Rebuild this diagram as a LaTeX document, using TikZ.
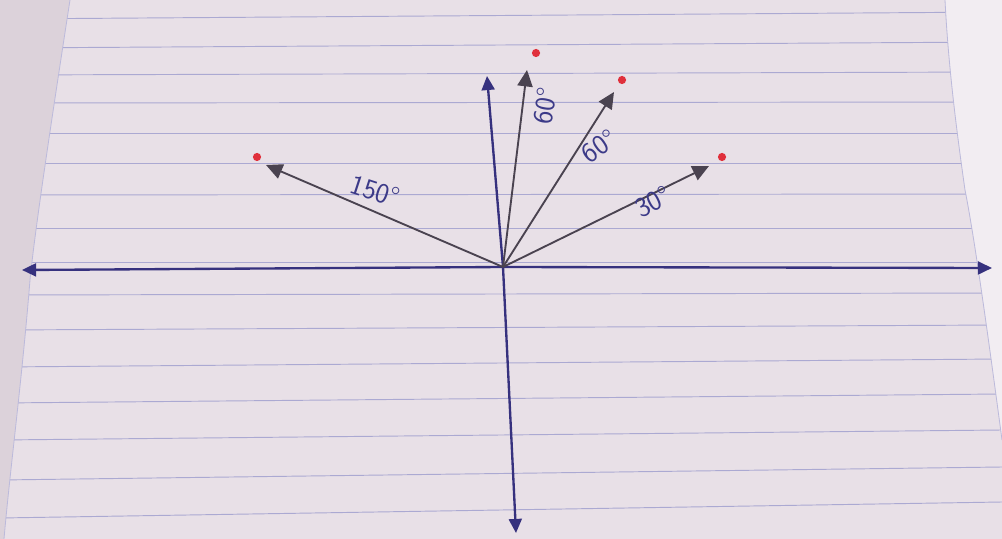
\documentclass[tikz,border=0pt]{standalone}
\usetikzlibrary{arrows.meta}
\definecolor{paper}{HTML}{E8E0E7}
\definecolor{outleft}{HTML}{DCD2DA}
\definecolor{outright}{HTML}{F2EDF2}
\definecolor{rulecol}{HTML}{ABA9D2}
\definecolor{axisblue}{HTML}{36317E}
\definecolor{vecgray}{HTML}{4A4350}
\definecolor{dotred}{HTML}{E0303C}
\definecolor{inkblue}{HTML}{3C3A88}
\begin{document}
\begin{tikzpicture}[x=0.03cm,y=-0.03cm,
  axis/.style={draw=axisblue, line width=2pt, -{Triangle[length=12pt,width=11pt]}},
  vec/.style={draw=vecgray, line width=1.6pt, -{Triangle[length=14pt,width=13pt]}},
  reddot/.style={circle, fill=dotred, inner sep=0pt, minimum size=7pt},
  lbl/.style={text=inkblue, font=\sffamily\upshape\fontsize{24}{28}\selectfont, inner sep=0pt},
  rulel/.style={draw=rulecol, line width=0.8pt},
  edge/.style={draw=rulecol!80!white, line width=0.7pt}]
% background
\fill[outright] (0,0) rectangle (1002,539);
\useasboundingbox (0,0) rectangle (1002,539);
\fill[outleft] (0,0) rectangle (80,539);
\path[fill=paper] (70,0) .. controls (50,130) and (35,230) .. (30,280)
   .. controls (22,380) and (10,470) .. (4,539) -- (1002,539) -- (1002,440)
   .. controls (990,350) and (975,240) .. (965,190) .. controls (955,120) and (948,60) .. (945,0) -- cycle;
\begin{scope}
\clip (70,0) .. controls (50,130) and (35,230) .. (30,280)
   .. controls (22,380) and (10,470) .. (4,539) -- (1002,539) -- (1002,440)
   .. controls (990,350) and (975,240) .. (965,190) .. controls (955,120) and (948,60) .. (945,0) -- cycle;
\foreach \yl/\yr in {19/12,48/42,75/72,103/102,133/133,163/163,195/194,228/228,262/262,295/293,330/325,367/359,403/394,440/430,480/467,518/502}
  \draw[rulel] (0,\yl) -- (1002,\yr);
\end{scope}
\draw[edge] (70,0) .. controls (50,130) and (35,230) .. (30,280)
   .. controls (22,380) and (10,470) .. (4,539);
\draw[edge] (1002,440) .. controls (990,350) and (975,240) .. (965,190) .. controls (955,120) and (948,60) .. (945,0);
% points
\coordinate (O) at (503,267);
\coordinate (xl) at (22,270);
\coordinate (xr) at (992,268);
\coordinate (yt) at (487,76);
\coordinate (yb) at (516,533);
\coordinate (t150) at (266,165);
\coordinate (t80) at (527,70);
\coordinate (t60) at (614,92);
\coordinate (t30) at (709,166);
% axes
\draw[axis] (O) -- (xl);
\draw[axis] (O) -- (xr);
\draw[axis] (O) -- (yt);
\draw[axis] (O) -- (yb);
% vectors
\draw[vec] (O) -- (t150);
\draw[vec] (O) -- (t80);
\draw[vec] (O) -- (t60);
\draw[vec] (O) -- (t30);
% red dots
\node[reddot] (d150) at (257,157) {};
\node[reddot] (d80) at (536,53) {};
\node[reddot] (d60) at (622,80) {};
\node[reddot] (d30) at (722,157) {};
% labels
\node[lbl, rotate=-18] (l150) at (375,191) {150\textdegree};
\node[lbl, rotate=80] (l80) at (545,106) {60\textdegree};
\node[lbl, rotate=35] (l60) at (599,146) {60\textdegree};
\node[lbl, rotate=27] (l30) at (653,202) {30\textdegree};
\end{tikzpicture}
\end{document}
